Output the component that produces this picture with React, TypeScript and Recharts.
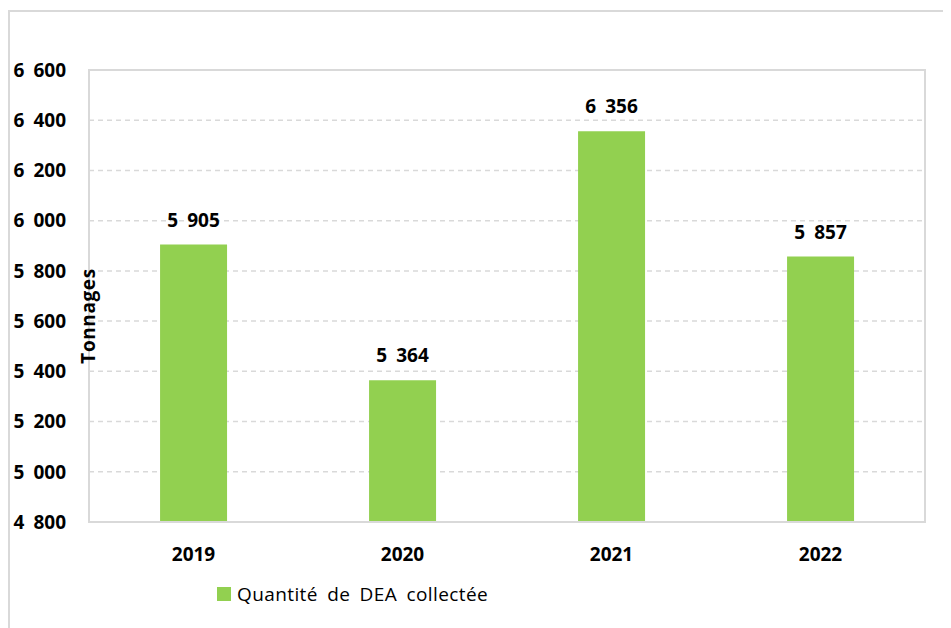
import React from 'react';
import { BarChart, Bar, XAxis, YAxis, CartesianGrid, LabelList, Legend, ReferenceArea } from 'recharts';

const years = ['2019', '2020', '2021', '2022'];
const quantities = [5905, 5364, 6356, 5857];
const yTicks = [4800, 5000, 5200, 5400, 5600, 5800, 6000, 6200, 6400, 6600];
const seriesName = 'Quantité de DEA collectée';
const axisTitle = 'Tonnages';

const data = years.map((y, i) => ({ year: y, value: quantities[i] }));

const FONT = '"Open Sans", "Noto Sans", sans-serif';
const GREEN = '#92D050';
const GRID = '#d9d9d9';

const fmt = (v: any) => {
  const n = Number(v);
  return String(n).replace(/\B(?=(\d{3})+(?!\d))/g, ' ');
};

const LegendContent = () => (
  <div style={{ display: 'flex', alignItems: 'center', fontFamily: FONT, fontSize: 19, color: '#000', whiteSpace: 'nowrap', wordSpacing: 4, letterSpacing: 0.4 }}>
    <span style={{ display: 'inline-block', width: 14, height: 14, background: GREEN, marginRight: 6 }} />
    <span>{seriesName}</span>
  </div>
);

export default function App() {
  return (
    <div style={{ position: 'relative', width: 943, height: 620 }}>
      <div style={{ position: 'absolute', left: 0, top: 2, width: 1000, height: 700, borderLeft: `2px solid ${GRID}`, borderTop: `2px solid ${GRID}` }} />
      <div style={{ position: 'absolute', left: 0, top: 0 }}>
        <BarChart width={943} height={620} data={data} margin={{ top: 62, right: 26, bottom: 40, left: 0 }} barCategoryGap="34%">
          <CartesianGrid vertical={false} stroke={GRID} strokeDasharray="5 4" strokeWidth={1.5} />
          <ReferenceArea y1={4800} y2={6600} fill="none" stroke={GRID} strokeWidth={2} ifOverflow="visible" />
          <XAxis
            dataKey="year"
            height={66}
            axisLine={{ stroke: GRID, strokeWidth: 2 }}
            tickLine={false}
            tickMargin={20}
            tick={{ fill: '#000', fontFamily: FONT, fontSize: 19, fontWeight: 700 }}
          />
          <YAxis
            width={81}
            domain={[4800, 6600]}
            ticks={yTicks}
            interval={0}
            axisLine={{ stroke: GRID, strokeWidth: 2 }}
            tickLine={false}
            tickMargin={17}
            tickFormatter={fmt}
            tick={{ fill: '#000', fontFamily: FONT, fontSize: 19, fontWeight: 700, style: { wordSpacing: 4 } }}
            label={{ value: axisTitle, angle: -90, position: 'insideLeft', offset: 0, dx: 80, dy: 20, style: { fill: '#000', fontFamily: FONT, fontSize: 19, fontWeight: 700, textAnchor: 'middle', letterSpacing: 0.6 } }}
          />
          <Legend
            verticalAlign="bottom"
            content={<LegendContent />}
            wrapperStyle={{ position: 'absolute', left: 209, top: 573, bottom: 'auto', width: 400, height: 0 }}
          />
          <Bar dataKey="value" name={seriesName} fill={GREEN} isAnimationActive={false}>
            <LabelList dataKey="value" position="top" offset={18} formatter={fmt} style={{ fill: '#000', fontFamily: FONT, fontSize: 19, fontWeight: 700, wordSpacing: 4 }} />
          </Bar>
        </BarChart>
      </div>
    </div>
  );
}
